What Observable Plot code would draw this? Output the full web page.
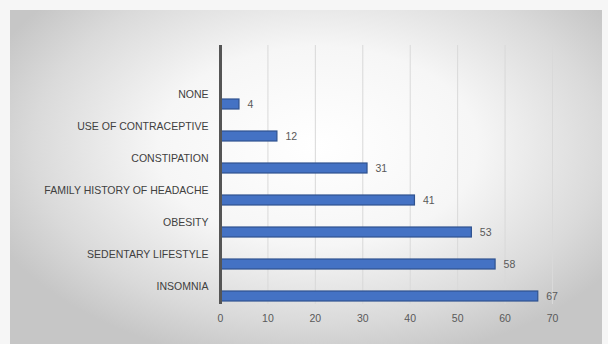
<!DOCTYPE html>
<html>
<head>
<meta charset="utf-8">
<script src="https://cdn.jsdelivr.net/npm/d3@7"></script>
<script src="https://cdn.jsdelivr.net/npm/@observablehq/plot@0.6"></script>
<style>
  html, body { margin: 0; padding: 0; background: #fafafa; }
  #wrap { position: relative; width: 608px; height: 344px; overflow: hidden; background: #f6f6f6; }
  #bg { position: absolute; left: 10px; top: 10px; width: 592px; height: 340px;
        background: radial-gradient(ellipse 60% 65% at 52% 40%, #ffffff 0%, #f6f6f6 45%, #dadada 80%, #c6c6c6 100%); }
  #chart { position: absolute; left: 0; top: 0; }
  #chart svg { background: transparent; }
</style>
</head>
<body>
<div id="wrap"><div id="bg"></div><div id="chart"></div></div>
<script>
const categories = ["NONE", "USE OF CONTRACEPTIVE", "CONSTIPATION", "FAMILY HISTORY OF HEADACHE", "OBESITY", "SEDENTARY LIFESTYLE", "INSOMNIA"];
const values = [4, 12, 31, 41, 53, 58, 67];
const xTicks = [0, 10, 20, 30, 40, 50, 60, 70];

const data = categories.map((c, i) => ({category: c, value: values[i]}));
const font = "'Liberation Sans Narrow', 'Liberation Sans', Arial, sans-serif";

const chart = Plot.plot({
  width: 608,
  height: 344,
  marginLeft: 220,
  marginRight: 56,
  marginTop: 45,
  marginBottom: 40,
  style: {background: "transparent", fontFamily: font},
  x: {domain: [0, 70], ticks: xTicks},
  y: {domain: categories, range: [86, 314], paddingInner: 0.68, paddingOuter: 0.34},
  marks: [
    Plot.ruleX(xTicks.slice(1), {stroke: "#d9d9d9", strokeWidth: 1}),
    Plot.barX(data, {y: "category", x: "value", fill: "#4472c4", stroke: "#2f528f", strokeWidth: 1.2}),
    Plot.text(data, {y: "category", x: "value", text: d => String(d.value), dx: 8, textAnchor: "start", fill: "#595959", fontSize: 10.5}),
    Plot.ruleX([0], {stroke: "#555555", strokeWidth: 3}),
    Plot.axisX({ticks: xTicks, tickSize: 0, tickPadding: 10, fill: "#595959", fontSize: 10.5, label: null}),
    Plot.axisY({tickSize: 0, tickPadding: 12, dy: -10, fill: "#404040", fontSize: 10.5, label: null})
  ]
});
document.getElementById("chart").append(chart);
</script>
</body>
</html>
